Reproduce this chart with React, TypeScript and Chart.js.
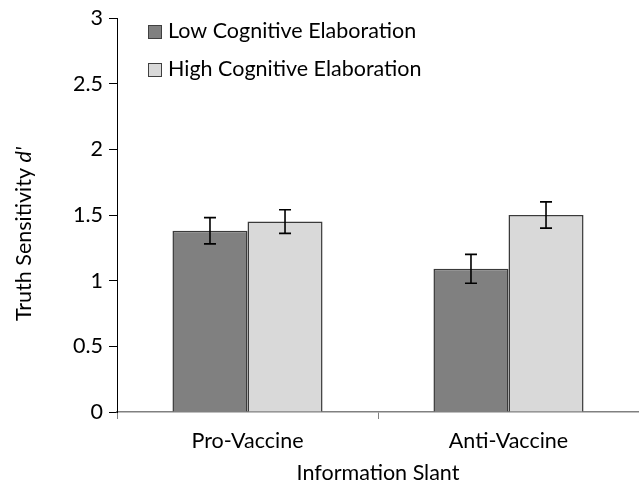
import React, { useEffect, useRef } from "react";
import { Chart, registerables } from "chart.js";

Chart.register(...registerables);

const categories = ["Pro-Vaccine", "Anti-Vaccine"];
const seriesNames = ["Low Cognitive Elaboration", "High Cognitive Elaboration"];
const lowValues = [1.38, 1.09];
const highValues = [1.45, 1.5];
const lowErrors = [0.1, 0.11];
const highErrors = [0.09, 0.1];
const yTicks = [0, 0.5, 1, 1.5, 2, 2.5, 3];
const xTitle = "Information Slant";
const yTitleMain = "Truth Sensitivity ";
const yTitleItalic = "d'";

const FONT = "Lato, 'Open Sans', sans-serif";
const FS = 21.5;
const errors = [lowErrors, highErrors];

const errorBarPlugin = {
  id: "errorBars",
  afterDatasetsDraw(chart: any) {
    const ctx = chart.ctx;
    const y = chart.scales.y;
    ctx.save();
    ctx.strokeStyle = "#000";
    ctx.lineWidth = 1.6;
    chart.data.datasets.forEach((ds: any, i: number) => {
      const meta = chart.getDatasetMeta(i);
      meta.data.forEach((bar: any, j: number) => {
        const v = ds.data[j];
        const e = errors[i][j];
        const x = bar.x;
        const yt = y.getPixelForValue(v + e);
        const yb = y.getPixelForValue(v - e);
        ctx.beginPath();
        ctx.moveTo(x, yt);
        ctx.lineTo(x, yb);
        ctx.moveTo(x - 6, yt);
        ctx.lineTo(x + 6, yt);
        ctx.moveTo(x - 6, yb);
        ctx.lineTo(x + 6, yb);
        ctx.stroke();
      });
    });
    ctx.restore();
  },
  afterDraw(chart: any) {
    const ctx = chart.ctx;
    const area = chart.chartArea;
    ctx.save();
    chart.data.datasets.forEach((ds: any, i: number) => {
      const cy = 31 + i * 38;
      ctx.fillStyle = ds.backgroundColor;
      ctx.fillRect(148, cy - 6, 14, 14);
      ctx.strokeStyle = "#404040";
      ctx.lineWidth = 1;
      ctx.strokeRect(148.5, cy - 5.5, 13, 13);
      ctx.fillStyle = "#000";
      ctx.font = `${FS}px ${FONT}`;
      ctx.textAlign = "left";
      ctx.textBaseline = "middle";
      ctx.fillText(ds.label, 168, cy);
    });
    ctx.fillStyle = "#000";
    ctx.font = `${FS}px ${FONT}`;
    ctx.textAlign = "center";
    ctx.textBaseline = "middle";
    ctx.fillText(xTitle, (area.left + area.right) / 2, 473);
    ctx.translate(24, 234);
    ctx.rotate(-Math.PI / 2);
    ctx.font = `${FS}px ${FONT}`;
    const w1 = ctx.measureText(yTitleMain).width;
    ctx.font = `italic ${FS}px ${FONT}`;
    const w2 = ctx.measureText(yTitleItalic).width;
    const start = -(w1 + w2) / 2;
    ctx.textAlign = "left";
    ctx.font = `${FS}px ${FONT}`;
    ctx.fillText(yTitleMain, start, 0);
    ctx.font = `italic ${FS}px ${FONT}`;
    ctx.fillText(yTitleItalic, start + w1, 0);
    ctx.restore();
  },
};

export default function App() {
  const ref = useRef<HTMLCanvasElement>(null);
  useEffect(() => {
    if (!ref.current) return;
    const chart = new Chart(ref.current, {
      type: "bar",
      data: {
        labels: categories,
        datasets: [
          {
            label: seriesNames[0],
            data: lowValues,
            backgroundColor: "#808080",
            borderColor: "#3a3a3a",
            borderWidth: 1.5,
            categoryPercentage: 0.575,
            barPercentage: 1.0,
          },
          {
            label: seriesNames[1],
            data: highValues,
            backgroundColor: "#d9d9d9",
            borderColor: "#3a3a3a",
            borderWidth: 1.5,
            categoryPercentage: 0.575,
            barPercentage: 1.0,
          },
        ],
      },
      options: {
        animation: false,
        responsive: true,
        maintainAspectRatio: false,
        layout: { padding: { top: 18, right: 0, left: 0, bottom: 0 } },
        plugins: {
          legend: { display: false },
          tooltip: { enabled: false },
        },
        scales: {
          x: {
            grid: {
              drawOnChartArea: false,
              tickLength: 7,
              color: "#808080",
              offset: true,
            },
            border: { color: "#808080", width: 1.5 },
            ticks: {
              color: "#000",
              font: { family: FONT, size: FS },
              padding: 9,
            },
            afterFit(scale: any) {
              scale.height = 75;
              scale.paddingLeft = 0;
              scale.paddingRight = 0;
            },
          },
          y: {
            min: 0,
            max: 3,
            afterBuildTicks(scale: any) {
              scale.ticks = yTicks.map((v) => ({ value: v }));
            },
            grid: {
              drawOnChartArea: false,
              tickLength: 8,
              color: "#000",
            },
            border: { color: "#000", width: 1 },
            ticks: {
              color: "#000",
              font: { family: FONT, size: FS },
              padding: 6,
              callback: (v: any) => String(v),
            },
            afterFit(scale: any) {
              scale.width = 117;
              scale.paddingTop = 0;
              scale.paddingBottom = 0;
            },
          },
        },
      },
      plugins: [errorBarPlugin],
    });
    return () => chart.destroy();
  }, []);
  return (
    <div style={{ position: "absolute", left: 0, top: 0, width: 639, height: 487 }}>
      <canvas ref={ref} />
    </div>
  );
}
